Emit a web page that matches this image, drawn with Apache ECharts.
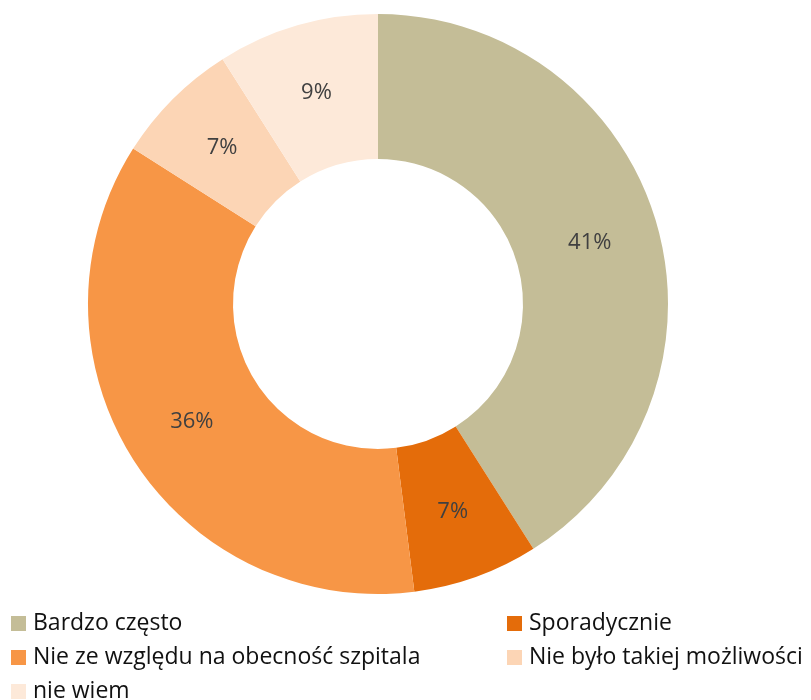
<!DOCTYPE html>
<html>
<head>
<meta charset="utf-8">
<script src="https://cdn.jsdelivr.net/npm/echarts@6/dist/echarts.min.js"></script>
<style>
  html, body { margin: 0; padding: 0; background: #fff; }
  #chart { width: 811px; height: 700px; }
</style>
</head>
<body>
<div id="chart"></div>
<script>
// Answer categories and their shares (%)
const categories = [
  'Bardzo często',
  'Sporadycznie',
  'Nie ze względu na obecność szpitala',
  'Nie było takiej możliwości',
  'nie wiem'
];
const shares = [41, 7, 36, 7, 9];
const colors = ['#C4BD97', '#E46C0A', '#F79646', '#FCD5B5', '#FDE9D9'];

// Legend is laid out in two columns
const legendLeftCol = [categories[0], categories[2], categories[4]];
const legendRightCol = [categories[1], categories[3]];

const chart = echarts.init(document.getElementById('chart'));

const legendBase = {
  orient: 'vertical',
  top: 607,
  height: 120,
  itemWidth: 15,
  itemHeight: 15,
  itemGap: 11,
  icon: 'rect',
  textStyle: {
    fontFamily: 'Open Sans, sans-serif',
    fontSize: 23,
    lineHeight: 22,
    color: '#111',
    padding: [0, 0, 0, 2]
  }
};

chart.setOption({
  animation: false,
  color: colors,
  legend: [
    Object.assign({}, legendBase, { left: 6, data: legendLeftCol }),
    Object.assign({}, legendBase, { left: 502, data: legendRightCol })
  ],
  series: [{
    type: 'pie',
    center: [378, 304],
    radius: [145, 290],
    startAngle: 90,
    clockwise: true,
    avoidLabelOverlap: false,
    label: {
      show: true,
      position: 'inside',
      formatter: '{c}%',
      fontFamily: 'Open Sans, sans-serif',
      fontSize: 22,
      color: '#404040'
    },
    labelLine: { show: false },
    emphasis: { disabled: true },
    data: categories.map((name, i) => ({ name: name, value: shares[i] }))
  }]
});
</script>
</body>
</html>
